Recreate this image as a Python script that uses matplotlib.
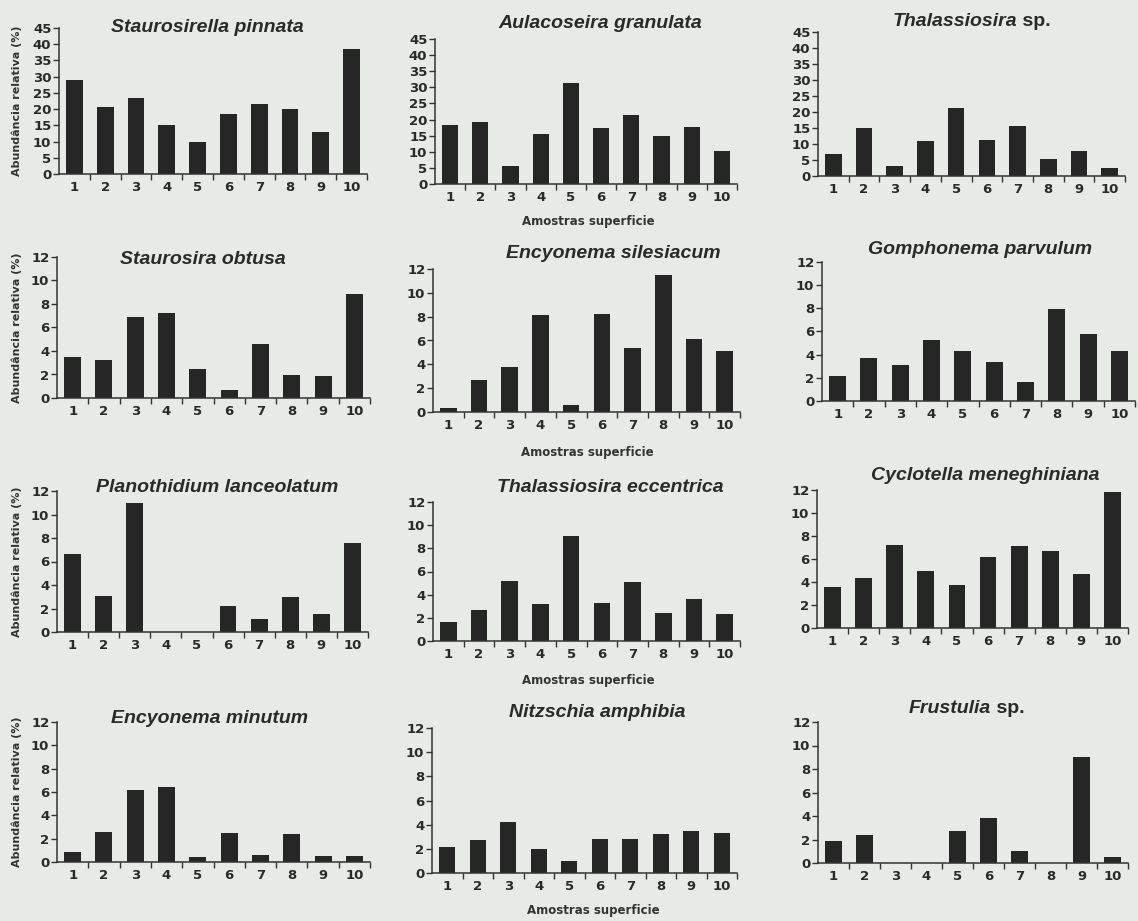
import matplotlib
matplotlib.use("Agg")
import matplotlib.pyplot as plt
from matplotlib.ticker import FixedLocator

# ---- data: relative abundance (%) of each taxon in the 10 surface samples ----
samples = [1, 2, 3, 4, 5, 6, 7, 8, 9, 10]

staurosirella_pinnata = [29.0, 20.5, 23.5, 15.0, 10.0, 18.5, 21.5, 20.0, 13.0, 38.5]
aulacoseira_granulata = [18.2, 19.3, 5.7, 15.5, 31.3, 17.4, 21.5, 15.0, 17.7, 10.1]
thalassiosira_sp = [6.8, 15.0, 3.2, 11.0, 21.1, 11.2, 15.7, 5.4, 7.7, 2.6]
staurosira_obtusa = [3.5, 3.25, 6.9, 7.25, 2.45, 0.65, 4.6, 1.95, 1.9, 8.85]
encyonema_silesiacum = [0.35, 2.7, 3.75, 8.15, 0.6, 8.2, 5.35, 11.5, 6.15, 5.1]
gomphonema_parvulum = [2.2, 3.7, 3.1, 5.3, 4.35, 3.35, 1.65, 7.9, 5.8, 4.35]
planothidium_lanceolatum = [6.6, 3.1, 11.0, 0.0, 0.0, 2.25, 1.08, 2.95, 1.5, 7.6]
thalassiosira_eccentrica = [1.65, 2.7, 5.15, 3.2, 9.05, 3.3, 5.1, 2.45, 3.6, 2.3]
cyclotella_meneghiniana = [3.6, 4.35, 7.25, 4.95, 3.7, 6.2, 7.1, 6.7, 4.7, 11.85]
encyonema_minutum = [0.85, 2.55, 6.2, 6.43, 0.4, 2.5, 0.63, 2.43, 0.5, 0.5]
nitzschia_amphibia = [2.15, 2.77, 4.25, 1.95, 1.0, 2.8, 2.85, 3.25, 3.5, 3.35]
frustulia_sp = [1.85, 2.4, 0.0, 0.0, 2.75, 3.8, 1.05, 0.0, 9.0, 0.5]

# (italic name, upright suffix)
titles = [
    ("Staurosirella pinnata", ""), ("Aulacoseira granulata", ""), ("Thalassiosira", " sp."),
    ("Staurosira obtusa", ""), ("Encyonema silesiacum", ""), ("Gomphonema parvulum", ""),
    ("Planothidium lanceolatum", ""), ("Thalassiosira eccentrica", ""), ("Cyclotella meneghiniana", ""),
    ("Encyonema minutum", ""), ("Nitzschia amphibia", ""), ("Frustulia", " sp."),
]
series = [
    staurosirella_pinnata, aulacoseira_granulata, thalassiosira_sp,
    staurosira_obtusa, encyonema_silesiacum, gomphonema_parvulum,
    planothidium_lanceolatum, thalassiosira_eccentrica, cyclotella_meneghiniana,
    encyonema_minutum, nitzschia_amphibia, frustulia_sp,
]
y_max = [45, 45, 45] + [12] * 9
y_step = [5, 5, 5] + [2] * 9

ylabel_text = "Abundância relativa (%)"
xlabel_text = "Amostras superficie"

# ---- layout (pixels on a 1138 x 921 canvas) ----
W, H = 1138, 921
# left, right, top, bottom of each plotting area
rects = [
    (59, 367, 28, 174), (435, 737, 39, 184), (818, 1125, 32, 176),
    (57, 370, 257, 398), (433, 740, 269, 412), (822, 1135, 262, 401),
    (57, 368, 491, 632), (433, 740, 502, 641), (817, 1128, 490, 628),
    (57, 370, 722, 862), (432, 737, 728, 873), (818, 1128, 722, 863),
]
# title centres
title_pos = [
    (207, 27), (600, 23), (972, 22),
    (203, 260), (613, 254), (980, 250),
    (217, 487), (610, 487), (985, 475),
    (210, 718), (597, 712), (967, 708),
]
xlabel_pos = [(588, 221), (587, 452), (588, 680), (593, 910)]

paper = "#e7eae7"
ink = "#262626"
title_font = "Liberation Sans"
tick_font = "DejaVu Sans"

fig = plt.figure(figsize=(W / 100, H / 100), dpi=100, facecolor=paper)


def fx(px):
    return px / W


def fy(py):
    return 1 - py / H


renderer = fig.canvas.get_renderer()

for i, (vals, (l, r, t, b)) in enumerate(zip(series, rects)):
    ax = fig.add_axes([fx(l), fy(b), fx(r - l), (b - t) / H])
    ax.set_facecolor("none")
    ax.bar(samples, vals, width=0.54, color=ink, edgecolor="none")
    ax.set_xlim(0.5, 10.5)
    ax.set_ylim(0, y_max[i])
    for s in ("top", "right"):
        ax.spines[s].set_visible(False)
    for s in ("left", "bottom"):
        ax.spines[s].set_color("#333333")
        ax.spines[s].set_linewidth(1.1)
    ax.set_yticks(list(range(0, y_max[i] + 1, y_step[i])))
    ax.set_xticks(samples)
    ax.xaxis.set_minor_locator(FixedLocator([k + 0.5 for k in samples]))
    ax.tick_params(axis="x", which="major", length=0, pad=5)
    ax.tick_params(axis="x", which="minor", length=4, width=1, direction="out", color="#333333")
    ax.tick_params(axis="y", length=4, width=1, direction="out", color="#333333", pad=1.5)
    for lab in ax.get_xticklabels() + ax.get_yticklabels():
        lab.set_fontfamily(tick_font)
        lab.set_fontweight("bold")
        lab.set_fontsize(9.5)
        lab.set_color("#2a2a2a")

    # title: italic taxon name, upright "sp." suffix
    name, suffix = titles[i]
    tx, ty = title_pos[i]
    t1 = fig.text(fx(tx), fy(ty), name, fontfamily=title_font, fontweight="bold",
                  fontstyle="italic", fontsize=14, color="#2a2a2a",
                  ha="left", va="center")
    parts = [t1]
    if suffix:
        t2 = fig.text(fx(tx), fy(ty), suffix, fontfamily=title_font, fontweight="bold",
                      fontsize=14, color="#2a2a2a", ha="left", va="center")
        parts.append(t2)
    widths = [p.get_window_extent(renderer).width for p in parts]
    start = tx - sum(widths) / 2
    for p, w in zip(parts, widths):
        p.set_x(fx(start))
        start += w

    if i % 3 == 0:
        fig.text(fx(17), fy((t + b) / 2), ylabel_text, rotation=90,
                 fontfamily=tick_font, fontweight="bold", fontsize=8,
                 color="#333333", ha="center", va="center")

for (lx, ly) in xlabel_pos:
    fig.text(fx(lx), fy(ly), xlabel_text, fontfamily=tick_font, fontweight="bold",
             fontsize=8.5, color="#333333", ha="center", va="center")

fig.savefig("out.png", dpi=100, facecolor=paper)
